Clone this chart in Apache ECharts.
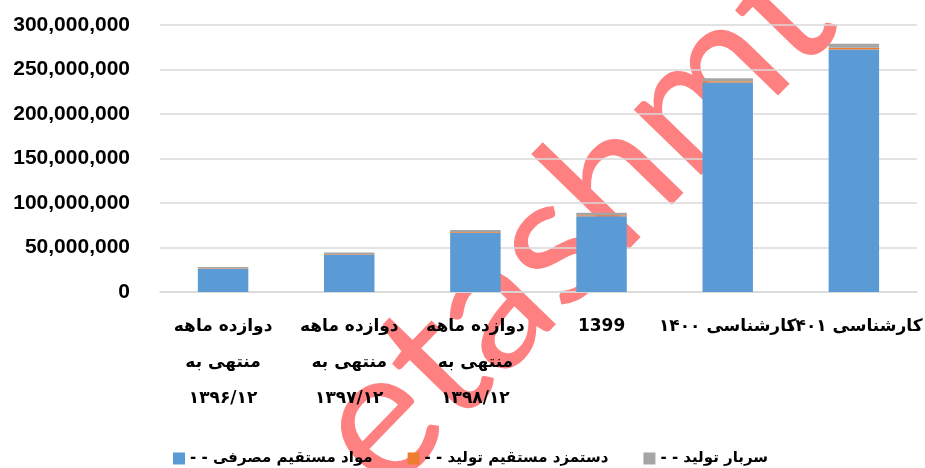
<!DOCTYPE html>
<html>
<head>
<meta charset="utf-8">
<script src="https://cdn.jsdelivr.net/npm/echarts@6/dist/echarts.min.js"></script>
<style>html,body{margin:0;padding:0;background:#fff}#c{width:925px;height:468px}</style>
</head>
<body>
<div id="c"></div>
<script>
const categories = [
  'دوازده ماهه\nمنتهی به\n۱۳۹۶/۱۲',
  'دوازده ماهه\nمنتهی به\n۱۳۹۷/۱۲',
  'دوازده ماهه\nمنتهی به\n۱۳۹۸/۱۲',
  '1399',
  'کارشناسی ۱۴۰۰',
  'کارشناسی ۱۴۰۱'
];
const seriesNames = ['- - مواد مستقیم مصرفی', '- - دستمزد مستقیم تولید', '- - سربار تولید'];
const materials = [26200000, 42200000, 66600000, 85200000, 235300000, 272400000];
const labor = [400000, 500000, 700000, 1000000, 1500000, 2000000];
const overhead = [1600000, 1700000, 2300000, 2800000, 3500000, 4500000];
const yTicks = { min: 0, max: 300000000, interval: 50000000 };
const watermarkText = 'etashmt';

const chart = echarts.init(document.getElementById('c'));
const fam = "'DejaVu Sans', 'Liberation Sans', sans-serif";
const colors = ['#5B9BD5', '#ED7D31', '#A5A5A5'];
const data = [materials, labor, overhead];
chart.setOption({
  animation: false,
  color: colors,
  graphic: [{
    type: 'text',
    x: 572, y: 222,
    rotation: 0.8,
    z: -10,
    silent: true,
    style: {
      text: watermarkText,
      fontSize: 185,
      fontFamily: "Lato, sans-serif",
      fill: '#FF8080',
      align: 'center',
      verticalAlign: 'middle'
    }
  }],
  grid: { left: 160, right: 1, top: 25, bottom: 176, containLabel: false },
  legend: {
    left: 168, top: 446,
    icon: 'rect', itemWidth: 12, itemHeight: 12, itemGap: 35,
    textStyle: { fontSize: 15, fontWeight: 'bold', color: '#000', fontFamily: fam },
    data: seriesNames
  },
  xAxis: {
    type: 'category',
    data: categories,
    axisLine: { lineStyle: { color: '#d9d9d9', width: 1.5 } },
    axisTick: { show: false },
    axisLabel: {
      interval: 0, margin: 17,
      fontSize: 17, fontWeight: 'bold', color: '#000', fontFamily: fam,
      lineHeight: 36
    }
  },
  yAxis: {
    type: 'value',
    min: yTicks.min, max: yTicks.max, interval: yTicks.interval,
    axisLine: { show: false }, axisTick: { show: false },
    splitLine: { lineStyle: { color: '#d9d9d9', width: 1.5 } },
    axisLabel: {
      margin: 30, fontSize: 21, fontWeight: 'bold', color: '#000',
      fontFamily: "'Liberation Sans', sans-serif",
      formatter: v => v.toLocaleString('en-US')
    }
  },
  series: seriesNames.map((n, i) => ({
    name: n, type: 'bar', stack: 'total', barWidth: '40%',
    data: data[i],
    itemStyle: { color: colors[i] }
  }))
});
</script>
</body>
</html>
